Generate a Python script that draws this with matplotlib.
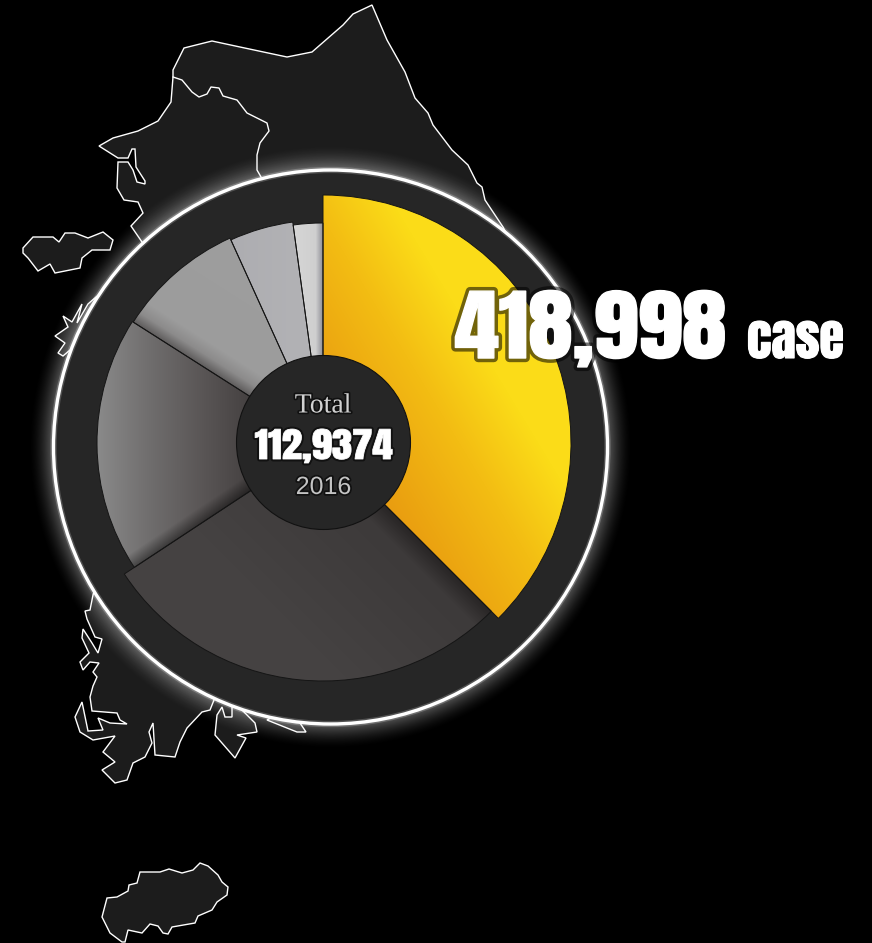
import numpy as np
import matplotlib
matplotlib.use("Agg")
import matplotlib.pyplot as plt
import matplotlib.patheffects as pe
from matplotlib.patches import Circle, Polygon
from matplotlib.transforms import Affine2D
from matplotlib.colors import to_rgb

# pie data
categories = ["A", "B", "C", "D", "E", "F"]
cases = [418998, 315340, 204530, 102730, 51520, 24210]

# text
total_title = "Total"
total_value = "112,9374"
year_label = "2016"
top_value = "418,998"
top_unit = "case"

# map outlines, in pixels of the picture
mainland = [(372, 5), (387, 40), (405, 72), (415, 98), (428, 113), (433, 125), (452, 150), (468, 165),
            (477, 183), (482, 187), (485, 200), (503, 227), (520, 260), (400, 500), (214, 700),
            (210, 710), (202, 712), (187, 728), (180, 742), (175, 757), (155, 755), (153, 723),
            (149, 732), (152, 743), (145, 757), (133, 763), (127, 780), (115, 783), (102, 770),
            (115, 762), (103, 752), (115, 736), (93, 740), (80, 732), (75, 717), (82, 702), (88, 731),
            (103, 730), (98, 718), (110, 723), (127, 724), (120, 720), (117, 713), (92, 711), (90, 697),
            (93, 686), (97, 677), (93, 672), (99, 663), (90, 662), (83, 670), (80, 662), (89, 653),
            (82, 638), (83, 629), (92, 643), (98, 653), (102, 639), (95, 637), (87, 619), (85, 611),
            (90, 610), (93, 595), (140, 450), (70, 350), (63, 356), (58, 353), (65, 343), (55, 336),
            (68, 327), (63, 316), (72, 322), (82, 304), (77, 323), (88, 304), (96, 297), (150, 260),
            (142, 242), (131, 226), (143, 213), (138, 202), (124, 200), (117, 188), (118, 162),
            (128, 162), (133, 170), (137, 182), (145, 184), (145, 181), (136, 167), (135, 149),
            (132, 149), (128, 158), (118, 158), (99, 146), (113, 138), (138, 131), (158, 121),
            (171, 102), (173, 77), (173, 70), (184, 48), (212, 41), (240, 47), (287, 57), (312, 52),
            (343, 25), (353, 14)]
inner_border = [(173, 77), (182, 80), (192, 92), (199, 97), (207, 94), (211, 87), (219, 88), (223, 96),
                (237, 100), (247, 113), (267, 123), (269, 131), (260, 143), (257, 155), (257, 170),
                (261, 177)]
west_island = [(33, 237), (23, 248), (23, 253), (28, 258), (38, 271), (50, 264), (55, 273), (80, 268),
               (82, 258), (92, 250), (110, 250), (113, 240), (103, 232), (88, 238), (75, 233), (65, 233),
               (59, 242), (53, 237)]
south_island = [(222, 707), (217, 715), (215, 735), (235, 758), (246, 738), (237, 735), (257, 732),
                (255, 723), (245, 713), (232, 700), (232, 717), (225, 717)]
south_islet = [(267, 720), (297, 732), (306, 732), (300, 723), (285, 710)]
jeju = [(200, 863), (208, 866), (218, 875), (222, 882), (228, 887), (227, 895), (217, 902), (212, 910),
        (198, 916), (195, 923), (172, 927), (168, 934), (163, 933), (158, 926), (150, 924), (142, 933),
        (128, 930), (125, 942), (122, 942), (110, 933), (102, 917), (107, 898), (117, 897), (128, 891),
        (129, 885), (137, 883), (140, 872), (160, 872), (169, 869), (182, 873), (193, 870)]

heavy_font = ["Anton", "Liberation Sans", "DejaVu Sans"]

W, H = 872, 943
fig = plt.figure(figsize=(W / 100, H / 100), dpi=100, facecolor="black")
ax = fig.add_axes([0, 0, 1, 1], facecolor="black")

xx, yy = np.meshgrid(np.arange(W) + 0.5, np.arange(H) + 0.5)


# stroke that also widens the glyphs round x0 (Anton is narrower than the original face)
class WideStroke(pe.Stroke):
    def __init__(self, x0, sx, **kw):
        super().__init__(**kw)
        self.x0 = x0
        self.sx = sx

    def _offset_transform(self, renderer):
        return Affine2D().translate(-self.x0, 0).scale(self.sx, 1).translate(self.x0, 0)


def paint(rgba, z, clip=None):
    im = ax.imshow(rgba, extent=(0, W, H, 0), zorder=z, interpolation="bilinear")
    if clip is not None:
        im.set_clip_path(clip)
    return im


def ramp_t(p0, p1):
    d = np.array(p1, float) - np.array(p0, float)
    t = ((xx - p0[0]) * d[0] + (yy - p0[1]) * d[1]) / (d @ d)
    return np.clip(t, 0, 1)


# linear colour ramp clipped to a patch
def ramp(patch, stops, p0, p1, z):
    t = ramp_t(p0, p1)
    pos = [s[0] for s in stops]
    cols = np.array([to_rgb(s[1]) for s in stops])
    rgb = np.dstack([np.interp(t, pos, cols[:, i]) for i in range(3)])
    paint(rgb, z, patch)


# black shadow fading from p0 to p1
def shade(patch, p0, p1, alpha, z):
    rgba = np.zeros((H, W, 4))
    rgba[..., 3] = (1 - ramp_t(p0, p1)) * alpha
    paint(rgba, z, patch)


# map
for shape in [mainland, west_island, south_island, south_islet, jeju]:
    ax.add_patch(Polygon(shape, closed=True, fc="#1c1c1c", ec="white", lw=1.0, zorder=1))
ax.plot(*zip(*inner_border), color="white", lw=1.0, zorder=2)

# glow round the big circle
ring_c = (330.5, 447)
ring_r = 277
dist = np.hypot(xx - ring_c[0], yy - ring_c[1])
glow = np.ones((H, W, 4))
glow[..., 3] = np.clip(1 - (dist - ring_r) / 26, 0, 1) ** 1.8 * 0.36
paint(glow, 3)

ax.add_patch(Circle(ring_c, ring_r, fc="#262626", ec="none", zorder=4))
ax.add_patch(Circle(ring_c, ring_r, fc="none", ec="white", lw=4.5, alpha=0.2, zorder=5))
ax.add_patch(Circle(ring_c, ring_r, fc="none", ec="white", lw=2.4, zorder=5))

# pie
pie_c = (323, 443)
wedges, _ = ax.pie(cases, labels=None, center=pie_c, radius=248, startangle=-90, counterclock=True,
                   frame=True, wedgeprops=dict(ec="#151515", lw=0.7))
radii = [248, 238, 226, 225, 223, 220]
for w, r in zip(wedges, radii):
    w.set_radius(r)
    w.set_facecolor("none")
    w.set_zorder(8)

ramp(wedges[0], [(0, "#e99c10"), (0.5, "#f3bd13"), (0.85, "#fbdc18"), (1, "#fbdc18")], (345, 440), (510, 340), 6)
# dark slice, shadow along the yellow edge
ramp(wedges[1], [(0, "#282525"), (0.14, "#3d3a3a"), (1, "#454242")], (440, 560), (334, 666), 6)
ramp(wedges[2], [(0, "#8a8a8a"), (0.35, "#6f6d6d"), (0.7, "#595555"), (1, "#454141")], (97, 440), (250, 440), 6)
shade(wedges[2], (190, 531), (182, 519), 0.45, 7)
ramp(wedges[3], [(0, "#4a4747"), (0.2, "#8c8b8b"), (0.35, "#9c9c9c"), (1, "#9d9d9d")], (218, 382), (262, 313), 6)
ramp(wedges[4], [(0, "#adadb1"), (1, "#b2b2b5")], (230, 300), (300, 300), 6)
ramp(wedges[5], [(0, "#d6d6d6"), (0.75, "#cfcfcf"), (1, "#8e8e96")], (294, 300), (323, 300), 6)

# centre hub
ax.add_patch(Circle((323.5, 442.5), 87, fc="#262626", ec="#111111", lw=0.8, zorder=9))

shadow = [pe.withStroke(linewidth=2.5, foreground="#111111")]
ax.text(323, 406, total_title, family="Liberation Serif", fontsize=20, color="#d2d2d2", ha="center",
        va="center", zorder=10, path_effects=shadow)
ax.text(323.5, 446, total_value, family=heavy_font, fontsize=25, color="white",
        ha="center", va="center", zorder=10,
        path_effects=[WideStroke(323.5, 1.18, linewidth=3.5, foreground="#111111"),
                      WideStroke(323.5, 1.18, linewidth=0.6, foreground="white")])
ax.text(323.5, 487, year_label, family="Liberation Sans", fontsize=18, color="#c4c4c4", ha="center",
        va="center", zorder=10, path_effects=shadow)

big_x = 590.5
ax.text(big_x, 358, top_value, family=heavy_font, fontsize=56, color="white",
        ha="center", va="baseline", zorder=11,
        path_effects=[WideStroke(big_x, 1.15, linewidth=6, foreground="black", alpha=0.55),
                      WideStroke(big_x, 1.15, linewidth=1.0, foreground="white")])
ax.text(795.5, 358, top_unit, family=heavy_font, fontsize=36, color="white",
        ha="center", va="baseline", zorder=11,
        path_effects=[pe.Stroke(linewidth=0.8, foreground="white"), pe.Normal()])

ax.set_xlim(0, W)
ax.set_ylim(H, 0)
ax.set_aspect("equal")
ax.axis("off")

fig.savefig("out.png", dpi=100, facecolor="black")
